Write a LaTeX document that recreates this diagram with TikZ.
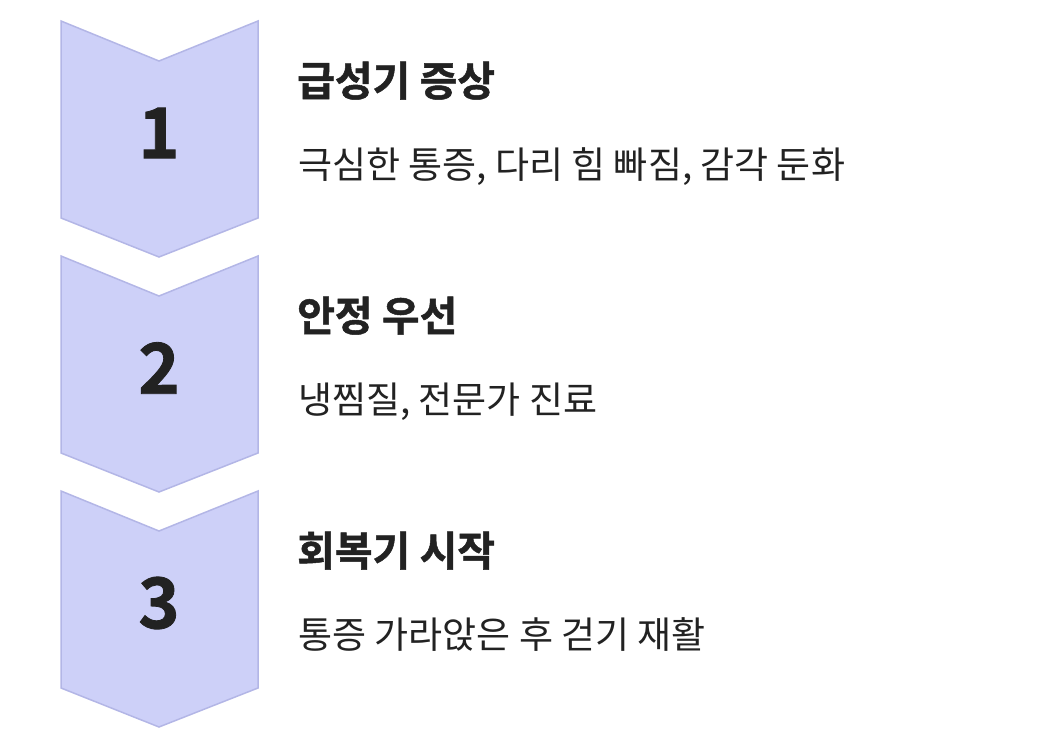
\documentclass[tikz,border=0pt]{standalone}
\usepackage{fontspec}
\setmainfont{Noto Sans CJK KR}[BoldFont={* Bold}]
\newfontfamily\heavyfont{Noto Sans CJK KR Bold}[FakeBold=1.2]
\definecolor{chevfill}{HTML}{CDD0F8}
\definecolor{chevline}{HTML}{B3B6E6}
\definecolor{ink}{HTML}{222222}
\tikzset{
    chevron/.style={fill=chevfill, draw=chevline, line width=1.5pt, line join=miter},
    stepnum/.style={font=\heavyfont\fontsize{70}{70}\selectfont, text=ink, inner sep=0pt},
    steptitle/.style={font=\heavyfont\fontsize{41}{41}\selectfont, text=ink, anchor=base west, inner sep=0pt},
    stepdesc/.style={font=\fontsize{37}{37}\selectfont, text=ink, anchor=base west, inner sep=0pt}
}

\begin{document}
\begin{tikzpicture}[x=1pt, y=-1pt]
        \useasboundingbox (0,0) rectangle (1054,744);
        % chevrons, one per step
        \foreach \i/\ttl/\dsc in {1/급성기 증상/{극심한 통증, 다리 힘 빠짐, 감각 둔화},
                                  2/안정 우선/{냉찜질, 전문가 진료},
                                  3/회복기 시작/{통증 가라앉은 후 걷기 재활}} {
            \pgfmathsetmacro{\t}{21+235*(\i-1)}
            \draw[chevron] (61,\t) -- (159,\t+40) -- (258,\t) -- (258,\t+197)
                -- (159,\t+236) -- (61,\t+197) -- cycle;
            \node[stepnum] (num\i) at (159,\t+112) {\i};
            \node[steptitle] (title\i) at (297,\t+75) {\ttl};
            \node[stepdesc] (desc\i) at (298,\t+157) {\dsc};
        }
    \end{tikzpicture}
\end{document}
